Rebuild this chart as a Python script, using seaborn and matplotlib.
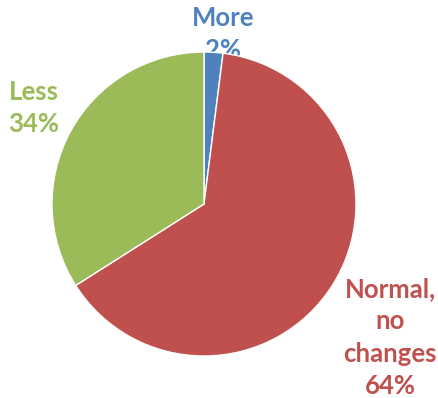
import matplotlib
matplotlib.use("Agg")
import matplotlib.pyplot as plt
import seaborn as sns

sns.set_theme(style="white")
plt.rcParams['font.family'] = ['Lato', 'DejaVu Sans']

categories = ["More", "Normal,\nno\nchanges", "Less"]
shares = [2, 64, 34]
colors = ["#4F81BD", "#C0504D", "#9BBB59"]

W, H = 438, 398
fig = plt.figure(figsize=(W / 100, H / 100), dpi=100)
ax = fig.add_axes([0, 0, 1, 1])

cx, cy, r = 204, H - 204, 152
wedges, _ = ax.pie(shares, colors=colors, startangle=90, counterclock=False,
                   center=(cx, cy), radius=r, frame=True,
                   wedgeprops=dict(edgecolor="white", linewidth=1, zorder=2))
ax.set_xlim(0, W)
ax.set_ylim(0, H)
ax.set_aspect("equal")
ax.axis("off")

# label anchor positions (top-centre of each text block): More, Normal, Less
label_pos = [(223, H - 6), (390, H - 277), (34, H - 80)]
for name, val, col, (x, y) in zip(categories, shares, colors, label_pos):
    ax.text(x, y, f"{name}\n{val}%", ha="center", va="top", color=col,
            fontsize=18.5, fontweight="bold", linespacing=1.42, zorder=1)

fig.savefig("out.png", dpi=100)
